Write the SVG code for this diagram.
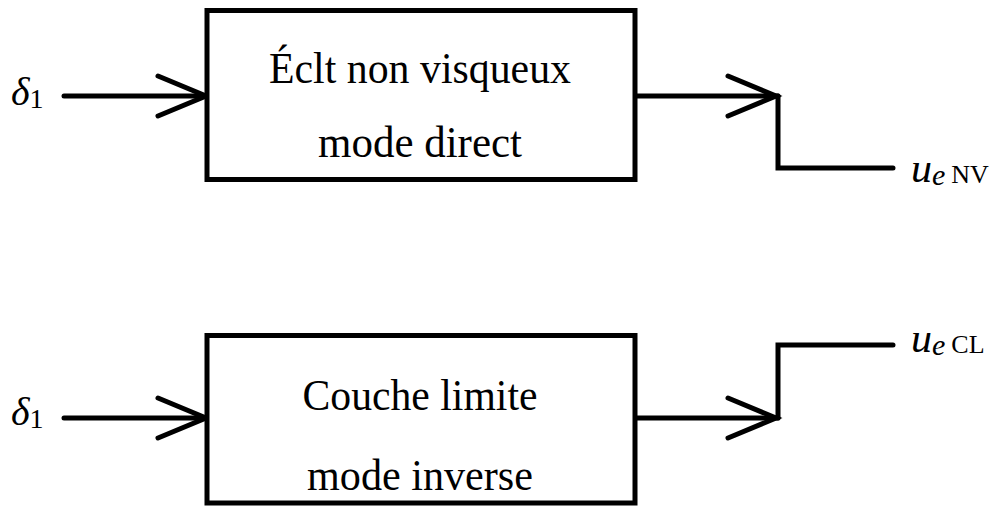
<svg xmlns="http://www.w3.org/2000/svg" width="1003" height="508" viewBox="0 0 1003 508">
<style>
.box{fill:#fff;stroke:#000;stroke-width:5}
.ln{fill:none;stroke:#000;stroke-width:5;stroke-linecap:round;stroke-linejoin:miter}
.t{font-family:"Liberation Serif","Times New Roman",serif;font-size:44px;fill:#000;text-anchor:middle}
.m{font-family:"Liberation Serif","Times New Roman",serif;fill:#000}
.i{font-style:italic}
.d{font-size:40px}
.s1{font-size:28px}
.u{font-size:42px}
.se{font-size:30px}
.sl{font-size:26px}
</style>
<rect width="1003" height="508" fill="#fff"/>
<g id="connectors">
  <polyline class="ln" points="64,96 207,96"/>
  <polyline class="ln" points="158,76 206,96 158,116"/>
  <polyline class="ln" points="637,96 778,96"/>
  <polyline class="ln" points="728,76 776,96 728,116"/>
  <polyline class="ln" points="778,96 778,168 893,168"/>
  <polyline class="ln" points="64,418 207,418"/>
  <polyline class="ln" points="158,398 206,418 158,438"/>
  <polyline class="ln" points="637,418 778,418"/>
  <polyline class="ln" points="728,398 776,418 728,438"/>
  <polyline class="ln" points="778,418 778,345 893,345"/>
</g>
<g id="box-nv">
  <rect class="box" x="207" y="10.5" width="428" height="169"/>
  <text class="t" x="420" y="83" textLength="302" lengthAdjust="spacingAndGlyphs">Éclt non visqueux</text>
  <text class="t" x="420" y="157" textLength="204" lengthAdjust="spacingAndGlyphs">mode direct</text>
</g>
<g id="box-cl">
  <rect class="box" x="207" y="335.5" width="428" height="167.5"/>
  <text class="t" x="420" y="410" textLength="235" lengthAdjust="spacingAndGlyphs">Couche limite</text>
  <text class="t" x="420" y="490" textLength="226" lengthAdjust="spacingAndGlyphs">mode inverse</text>
</g>
<g id="in-nv">
  <text class="m d" x="11" y="105"><tspan class="i">δ</tspan><tspan class="s1" dy="3">1</tspan></text>
</g>
<g id="in-cl">
  <text class="m d" x="11" y="425"><tspan class="i">δ</tspan><tspan class="s1" dy="3">1</tspan></text>
</g>
<g id="out-nv">
  <text class="m u" x="911" y="182"><tspan class="i">u</tspan><tspan class="i se" dy="3">e</tspan><tspan class="sl" dx="6" dy="-2">NV</tspan></text>
</g>
<g id="out-cl">
  <text class="m u" x="911" y="352"><tspan class="i">u</tspan><tspan class="i se" dy="3">e</tspan><tspan class="sl" dx="6" dy="-2">CL</tspan></text>
</g>
</svg>
